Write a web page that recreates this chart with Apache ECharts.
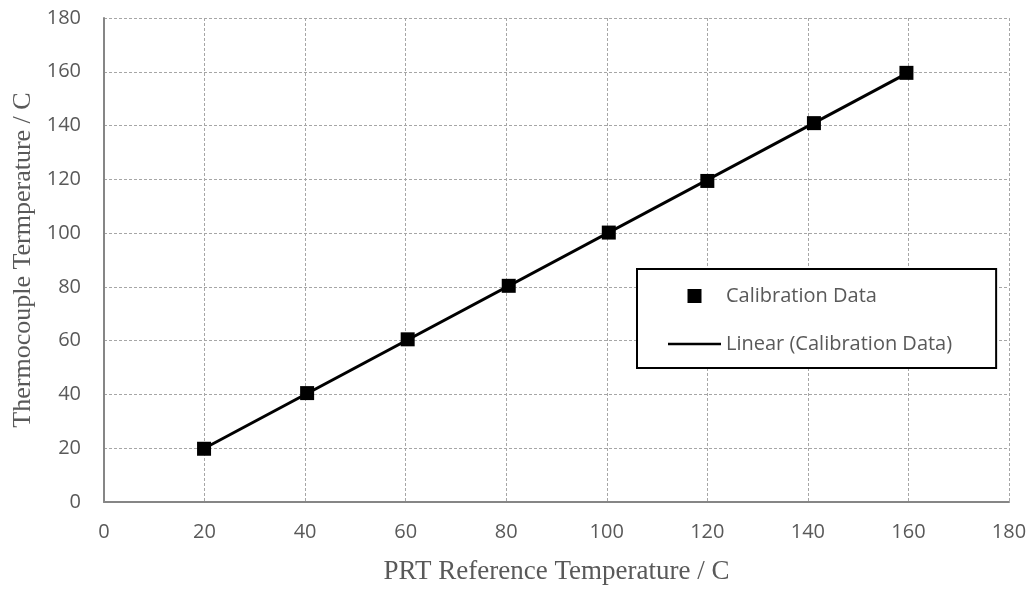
<!DOCTYPE html>
<html>
<head>
<meta charset="utf-8">
<script src="https://cdn.jsdelivr.net/npm/echarts@6/dist/echarts.min.js"></script>
<style>
	html, body { margin: 0; padding: 0; background: #ffffff; }
	#main { width: 1034px; height: 590px; }
</style>
</head>
<body>
<div id="main"></div>
<script>
// calibration points
var prtTemp = [19.9, 40.4, 60.4, 80.5, 100.4, 120.0, 141.2, 159.6];
var tcTemp = [19.8, 40.5, 60.5, 80.4, 100.2, 119.4, 140.9, 159.6];

var seriesNames = ['Calibration Data', 'Linear (Calibration Data)'];

// least squares fit for the trendline
function linearFit(xs, ys) {
	var n = xs.length, sx = 0, sy = 0, sxx = 0, sxy = 0;
	for (var i = 0; i < n; i++) {
		sx += xs[i]; sy += ys[i];
		sxx += xs[i] * xs[i]; sxy += xs[i] * ys[i];
	}
	var b = (n * sxy - sx * sy) / (n * sxx - sx * sx);
	var a = (sy - b * sx) / n;
	return function (x) { return a + b * x; };
}

window.onload = () => {
	var myChart = echarts.init(document.getElementById('main'));

	var points = prtTemp.map(function (x, i) { return [x, tcTemp[i]]; });
	var f = linearFit(prtTemp, tcTemp);
	var x0 = prtTemp[0], x1 = prtTemp[prtTemp.length - 1];
	var trend = [[x0, f(x0)], [x1, f(x1)]];

	var labelFont = { color: '#595959', fontSize: 20, fontFamily: 'Open Sans' };
	var gridLine = { show: true, lineStyle: { color: '#a6a6a6', width: 1, type: [3, 2] } };

	var option = {
		animation: false,
		backgroundColor: '#ffffff',
		grid: { left: 104, top: 18, right: 25, bottom: 85 },
		xAxis: {
			type: 'value', min: 0, max: 180, interval: 20,
			name: 'PRT Reference Temperature / C',
			nameLocation: 'middle', nameGap: 56,
			nameTextStyle: { color: '#595959', fontSize: 27, fontFamily: 'Liberation Serif' },
			axisLine: { show: true, onZero: false, lineStyle: { color: '#868686', width: 2 } },
			axisTick: { show: false },
			axisLabel: Object.assign({ margin: 20 }, labelFont),
			splitLine: gridLine
		},
		yAxis: {
			type: 'value', min: 0, max: 180, interval: 20,
			name: 'Thermocouple Termperature / C',
			nameLocation: 'middle', nameGap: 67,
			nameTextStyle: { color: '#595959', fontSize: 26, fontFamily: 'Liberation Serif' },
			axisLine: { show: true, onZero: false, lineStyle: { color: '#868686', width: 2 } },
			axisTick: { show: false },
			axisLabel: Object.assign({ margin: 23 }, labelFont),
			splitLine: gridLine
		},
		legend: {
			orient: 'vertical',
			left: 637, top: 269,
			padding: [17, 44, 14, 31],
			itemGap: 28,
			itemWidth: 53, itemHeight: 14,
			borderColor: '#000000', borderWidth: 2,
			backgroundColor: '#ffffff',
			textStyle: { color: '#595959', fontSize: 20, fontFamily: 'Open Sans' },
			data: [
				{ name: seriesNames[0], icon: 'path://M0,0L1,0L1,1L0,1Z' },
				{ name: seriesNames[1], icon: 'path://M0,0L53,0L53,2.4L0,2.4Z' }
			]
		},
		series: [
			{
				name: seriesNames[0],
				type: 'scatter',
				symbol: 'rect',
				symbolSize: 14,
				itemStyle: { color: '#000000', opacity: 1 },
				data: points,
				z: 2
			},
			{
				name: seriesNames[1],
				type: 'line',
				symbol: 'none',
				lineStyle: { color: '#000000', width: 3 },
				itemStyle: { color: '#000000' },
				data: trend,
				z: 3
			}
		]
	};

	myChart.setOption(option);
};
</script>
</body>
</html>
